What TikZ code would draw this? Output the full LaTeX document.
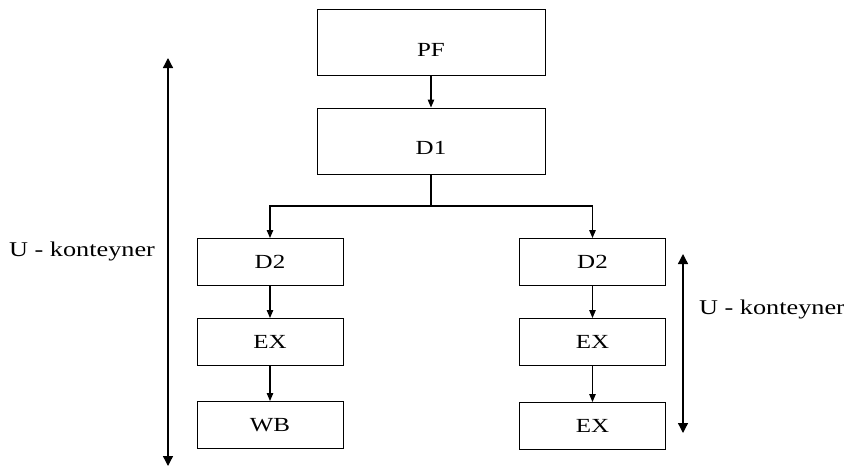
\documentclass[tikz,border=0pt]{standalone}
\usepackage{fontspec}
\setmainfont{Liberation Serif}[FakeStretch=1.25]
\usetikzlibrary{arrows.meta}
\begin{document}
\begin{tikzpicture}[x=1pt,y=-1pt,
  bigbox/.style={draw,line width=1pt,minimum width=228pt,minimum height=66pt,inner sep=0pt,
    font=\fontsize{20}{22}\selectfont,text height=30pt,text depth=3pt},
  smallbox/.style={draw,line width=1pt,minimum width=146pt,minimum height=47pt,inner sep=0pt,
    font=\fontsize{20}{22}\selectfont},
  conn/.style={line width=1.1pt,-{Triangle[length=8pt,width=6.5pt]}},
  span/.style={line width=1.3pt,{Triangle[length=10pt,width=10pt]}-{Triangle[length=10pt,width=10pt]}},
  lbl/.style={font=\fontsize{21}{24}\selectfont,anchor=base,inner sep=0pt}]
\useasboundingbox (0,0) rectangle (844,474);
% boxes
\node[bigbox] (PF) at (431,42.5) {PF};
\node[bigbox] (D1) at (431,141) {D1};
\node[smallbox] (D2L) at (270,262) {D2};
\node[smallbox] (EXL) at (270,342) {EX};
\node[smallbox] (WB) at (270,425) {WB};
\node[smallbox] (D2R) at (592.5,262) {D2};
\node[smallbox] (EXR) at (592.5,342) {EX};
\node[smallbox] (EX2R) at (592.5,426) {EX};
% connectors
\coordinate (split) at (431,206);
\draw[conn] (PF) -- (D1);
\draw[line width=1.3pt] (D1.south) -- (split);
\draw[conn,line width=1.3pt] (split) -| (D2L.north);
\draw[conn,line width=1.3pt] (split) -| (D2R.north);
\draw[conn] (D2L) -- (EXL);
\draw[conn] (EXL) -- (WB);
\draw[conn] (D2R) -- (EXR);
\draw[conn] (EXR) -- (EX2R);
% spans
\coordinate (LT) at (168,58);
\coordinate (LB) at (168,466);
\draw[span] (LT) -- (LB);
\coordinate (RT) at (683,254);
\coordinate (RB) at (683,433);
\draw[span] (RT) -- (RB);
\node[lbl] (LL) at (82,256) {U - konteyner};
\node[lbl] (RL) at (772,314) {U - konteyner};
\end{tikzpicture}
\end{document}
